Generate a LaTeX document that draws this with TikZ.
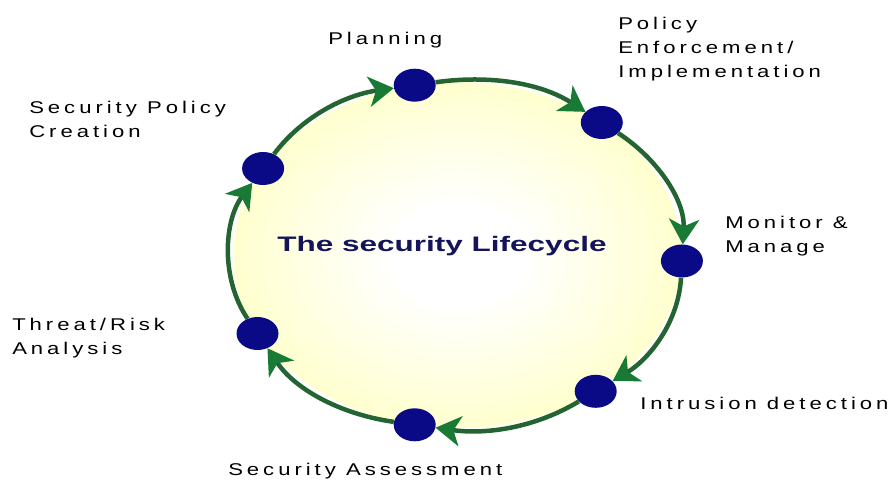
\documentclass[tikz,border=0pt]{standalone}
\usepackage{fontspec}
\setmainfont{Liberation Sans}
\newfontfamily\stagefont[LetterSpace=18]{Liberation Sans}
\usetikzlibrary{arrows.meta}
\usetikzlibrary{shapes.geometric}

\definecolor{ringgreen}{RGB}{36,100,50}
\definecolor{tipgreen}{RGB}{24,122,52}
\definecolor{dotblue}{RGB}{10,10,135}
\definecolor{paleyellow}{RGB}{255,255,185}
\definecolor{titleblue}{RGB}{20,20,88}

\pgfdeclareradialshading{glow}{\pgfpoint{0bp}{0bp}}{color(0bp)=(white); color(7bp)=(white); color(33bp)=(paleyellow); color(50bp)=(paleyellow)}

\tikzset{
  stage/.style={ellipse, fill=dotblue, minimum width=42pt, minimum height=33pt, inner sep=0pt},
  stagetext/.style={font=\stagefont\fontsize{17}{24}\selectfont, xscale=1.3, align=left, anchor=base west, inner sep=0pt},
  flow/.style={draw=ringgreen, line width=4.5pt, looseness=0.9, -{Stealth[length=25pt, width=30pt, inset=7pt, color=tipgreen]}}
}

\begin{document}
\begin{tikzpicture}[x=1pt, y=1pt]
\useasboundingbox (0,0) rectangle (891,479);
\shade[shading=glow] (457.5,224) ellipse [x radius=224.5, y radius=173];
\node[font=\bfseries\fontsize{21}{24}\selectfont, text=titleblue, xscale=1.5, anchor=base] (title) at (442,227) {The security Lifecycle};
\node[stage] (create) at (263.1,310.5) {};
\node[stage] (plan) at (414.7,393.8) {};
\node[stage] (enforce) at (601.8,356.5) {};
\node[stage] (monitor) at (681.9,218) {};
\node[stage] (intrude) at (595.7,87.7) {};
\node[stage] (assess) at (414.7,54.2) {};
\node[stage] (threat) at (257.5,145.5) {};
\draw[flow] (create) to[out=53, in=188] (plan);
\draw[flow] (plan) to[out=8, in=147] (enforce);
\draw[flow] (enforce) to[out=-33, in=87] (monitor);
\draw[flow] (monitor) to[out=-93, in=31] (intrude);
\draw[flow] (intrude) to[out=-149, in=-8] (assess);
\draw[flow] (assess) to[out=172, in=-56] (threat);
\draw[flow] (threat) to[out=124, in=-127] (create);
\node[stagetext] (plantext) at (328,434) {Planning};
\node[stagetext] (createtext) at (29,341) {Security Policy\\Creation};
\node[stagetext] (enforcetext) at (618,401) {Policy\\Enforcement/\\Implementation};
\node[stagetext] (monitortext) at (725,226) {Monitor \&\\Manage};
\node[stagetext] (intrudetext) at (640,69) {Intrusion detection};
\node[stagetext] (assesstext) at (228,4) {Security Assessment};
\node[stagetext] (threattext) at (12,124) {Threat/Risk\\Analysis};
\end{tikzpicture}
\end{document}
